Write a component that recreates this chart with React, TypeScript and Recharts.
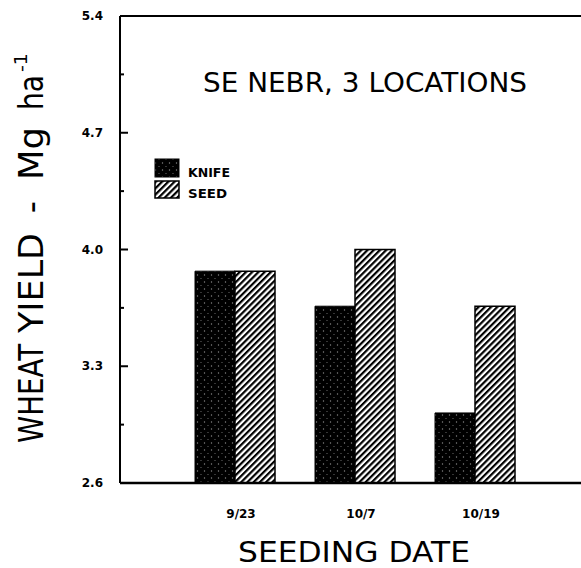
import { BarChart, Bar, XAxis, YAxis, ReferenceLine } from "recharts";

const dates = ["9/23", "10/7", "10/19"];
const knife = [3.87, 3.66, 3.02];
const seed = [3.87, 4.0, 3.66];
const yTicks = [2.6, 2.95, 3.3, 3.65, 4.0, 4.35, 4.7, 5.05, 5.4];
const yLabels = [2.6, 3.3, 4.0, 4.7, 5.4];

const data = dates.map((d, i) => ({ date: d, knife: knife[i], seed: seed[i] }));
const font = "'DejaVu Sans', 'Liberation Sans', sans-serif";

const YTick = (p: any) => {
  const v = p.payload.value;
  const major = yLabels.some(l => Math.abs(l - v) < 1e-6);
  return <g>
    <line x1={p.x} x2={p.x + (major ? 8 : 4)} y1={p.y} y2={p.y} stroke="#000" strokeWidth={2} />
    {major && <text x={p.x - 17} y={p.y + 4} textAnchor="end" fontSize={12} fontWeight="bold" fontFamily={font} fill="#000">{v.toFixed(1)}</text>}
  </g>;
};

const XTick = (p: any) => <text x={p.x + 6} y={p.y + 35} textAnchor="middle" fontSize={12} fontWeight="bold" fontFamily={font} fill="#000">{p.payload.value}</text>;

// rotated y-axis title piece, reading upward from (x, y)
const VText = ({ x, y, size, len, anchor, children }: any) =>
  <text x={x} y={y} transform={`rotate(-90 ${x} ${y})`} textAnchor={anchor || "start"} fontSize={size} fontFamily={font}
    textLength={len} lengthAdjust={len ? "spacingAndGlyphs" : undefined} fill="#000">{children}</text>;

export default function App() {
  return <div style={{ position: "absolute", left: 0, top: 0, background: "#fff" }}>
    <BarChart width={581} height={568} data={data} margin={{ top: 16, right: 0, left: 60, bottom: 45 }} barCategoryGap={20} barGap={0}>
      <defs>
        <pattern id="hatch" patternUnits="userSpaceOnUse" width={4.4} height={4.4} patternTransform="rotate(45)">
          <rect width={4.4} height={4.4} fill="#fff" />
          <rect width={2.2} height={4.4} fill="#000" />
        </pattern>
        <pattern id="stipple" patternUnits="userSpaceOnUse" width={7} height={7}>
          <rect width={7} height={7} fill="#000" />
          <circle cx={1.5} cy={2} r={0.7} fill="#888" />
          <circle cx={5} cy={5.5} r={0.6} fill="#777" />
        </pattern>
      </defs>
      <XAxis dataKey="date" padding={{ left: 55, right: 46 }} axisLine={{ stroke: "#000", strokeWidth: 2.5 }} tickLine={false} tickSize={0} tickMargin={0} height={40} tick={<XTick />} />
      <YAxis domain={[2.6, 5.4]} ticks={yTicks} interval={0} width={60} axisLine={{ stroke: "#000", strokeWidth: 2 }} tickLine={false} tickSize={0} tickMargin={0} tick={<YTick />} allowDataOverflow />
      <ReferenceLine y={5.4} stroke="#000" strokeWidth={2} />
      <Bar dataKey="knife" fill="url(#stipple)" stroke="#000" strokeWidth={1} isAnimationActive={false} />
      <Bar dataKey="seed" fill="url(#hatch)" stroke="#000" strokeWidth={1.5} isAnimationActive={false} />
      <g>
        <text x={365} y={92} textAnchor="middle" fontSize={27} fontFamily={font} textLength={324} lengthAdjust="spacingAndGlyphs" fill="#000">SE NEBR, 3 LOCATIONS</text>
        <rect x={155} y={159} width={24} height={18} fill="url(#stipple)" stroke="#000" />
        <rect x={155} y={181} width={24} height={17} fill="url(#hatch)" stroke="#000" strokeWidth={1.5} />
        <text x={188} y={177} fontSize={13} fontWeight="bold" fontFamily={font} textLength={42} lengthAdjust="spacingAndGlyphs" fill="#000">KNIFE</text>
        <text x={188} y={198} fontSize={13} fontWeight="bold" fontFamily={font} textLength={39} lengthAdjust="spacingAndGlyphs" fill="#000">SEED</text>
        <text x={354} y={562} textAnchor="middle" fontSize={29} fontFamily={font} textLength={232} lengthAdjust="spacingAndGlyphs" fill="#000">SEEDING DATE</text>
        <VText x={43} y={443} size={34} len={99}>WHEAT</VText>
        <VText x={43} y={333} size={34} len={100}>YIELD</VText>
        <VText x={43} y={207} size={34} anchor="middle">-</VText>
        <VText x={43} y={180} size={34} len={53}>Mg</VText>
        <VText x={43} y={110} size={34} len={35}>ha</VText>
        <VText x={27} y={72} size={18} len={19}>-1</VText>
      </g>
    </BarChart>
  </div>;
}
